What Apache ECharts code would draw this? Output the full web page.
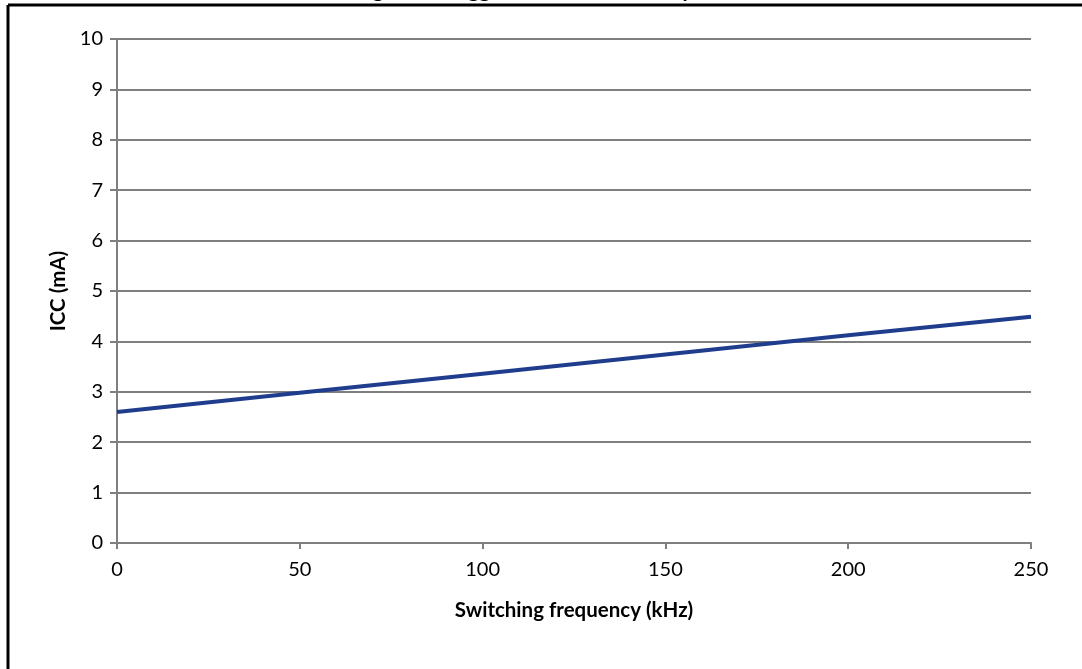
<!DOCTYPE html>
<html><head><meta charset="utf-8">
<script src="https://cdn.jsdelivr.net/npm/echarts@6/dist/echarts.min.js"></script>
<style>html,body{margin:0;padding:0;background:#fff}#c{width:1082px;height:669px}</style>
</head><body><div id="c"></div>
<script>
const titleText = "Logic side triggered current consumption";
const xName = "Switching frequency (kHz)";
const yName = "ICC (mA)";
const freq = [0, 50, 100, 150, 200, 250];
const icc = [2.60, 2.98, 3.36, 3.74, 4.12, 4.49];

const chart = echarts.init(document.getElementById('c'));
const font = 'Lato, "Open Sans", sans-serif';
chart.setOption({
  animation: false,
  backgroundColor: '#fff',
  title: { text: titleText, left: 'center', top: -25,
    textStyle: { fontFamily: font, fontSize: 21, fontWeight: 'bold', color: '#000' } },
  grid: { left: 117, right: 51, top: 39, bottom: 126, containLabel: false },
  xAxis: {
    type: 'value', min: 0, max: 250, interval: 50,
    name: xName, nameLocation: 'middle', nameGap: 57,
    nameTextStyle: { fontFamily: font, fontSize: 20.5, fontWeight: 'bold', color: '#000' },
    axisLine: { show: true, lineStyle: { color: '#7f7f7f', width: 2 } },
    axisTick: { show: true, length: 6, lineStyle: { color: '#7f7f7f', width: 2 } },
    axisLabel: { fontFamily: font, fontSize: 20, color: '#000', margin: 17 },
    splitLine: { show: false }
  },
  yAxis: {
    type: 'value', min: 0, max: 10, interval: 1,
    name: yName, nameLocation: 'middle', nameGap: 48, nameRotate: 90,
    nameTextStyle: { fontFamily: font, fontSize: 20.5, fontWeight: 'bold', color: '#000' },
    axisLine: { show: true, lineStyle: { color: '#7f7f7f', width: 2 } },
    axisTick: { show: true, length: 7, lineStyle: { color: '#7f7f7f', width: 2 } },
    axisLabel: { fontFamily: font, fontSize: 20, color: '#000', margin: 14 },
    splitLine: { show: true, lineStyle: { color: '#7f7f7f', width: 2 } }
  },
  series: [{
    type: 'line', data: freq.map((f, i) => [f, icc[i]]),
    showSymbol: false, symbol: 'none',
    lineStyle: { color: '#1f3d8c', width: 4 }
  }],
  graphic: [
    { type: 'line', shape: { x1: 8, y1: 5, x2: 1082, y2: 5 }, style: { stroke: '#000', lineWidth: 3 }, z: 100 },
    { type: 'line', shape: { x1: 8, y1: 5, x2: 8, y2: 669 }, style: { stroke: '#000', lineWidth: 3 }, z: 100 },
    { type: 'rect', shape: { x: 0, y: 6.5, width: 1082, height: 10 }, style: { fill: '#fff' }, z: 99 }
  ]
});
</script></body></html>
